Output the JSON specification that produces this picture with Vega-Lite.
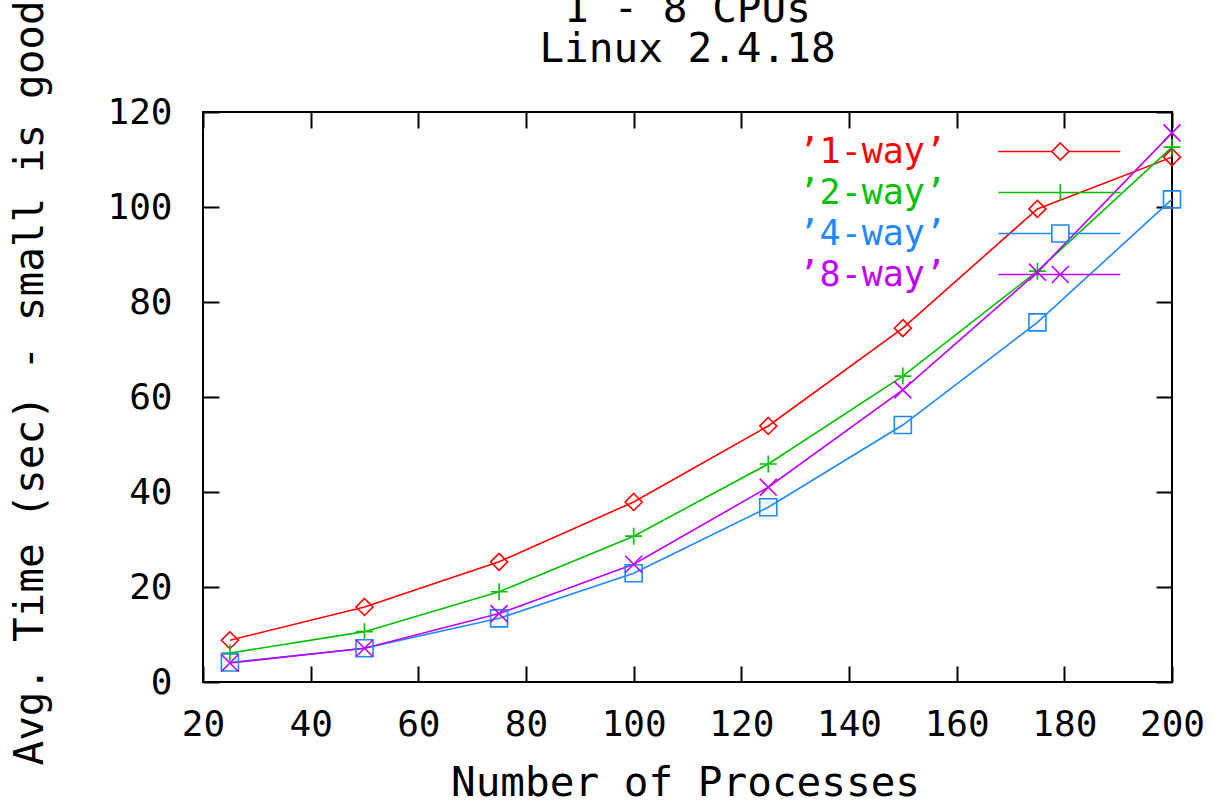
{
  "$schema": "https://vega.github.io/schema/vega-lite/v6.json",
  "width": 969,
  "height": 570,
  "autosize": {"type": "none"},
  "padding": {"left": 203, "top": 112, "right": 50, "bottom": 121},
  "background": "white",
  "title": {
    "text": ["1 - 8 CPUs", "Linux 2.4.18"],
    "font": "DejaVu Sans Mono",
    "fontSize": 41,
    "fontWeight": "normal",
    "color": "black",
    "lineHeight": 40,
    "offset": -71,
    "anchor": "middle"
  },
  "config": {
    "view": {"stroke": "black", "strokeWidth": 2},
    "axis": {
      "domain": false,
      "grid": false,
      "ticks": true,
      "tickSize": 16,
      "tickWidth": 2,
      "tickColor": "black",
      "offset": -16,
      "labelFont": "DejaVu Sans Mono",
      "labelFontSize": 36,
      "labelColor": "black",
      "labelFlush": false,
      "labelOverlap": false,
      "titleFont": "DejaVu Sans Mono",
      "titleFontSize": 41,
      "titleFontWeight": "normal",
      "titleColor": "black"
    }
  },
  "data": {
    "values": [
      {"n": 25, "series": "1-way", "time": 8.8},
      {"n": 50, "series": "1-way", "time": 15.8},
      {"n": 75, "series": "1-way", "time": 25.3},
      {"n": 100, "series": "1-way", "time": 37.9},
      {"n": 125, "series": "1-way", "time": 53.9},
      {"n": 150, "series": "1-way", "time": 74.5},
      {"n": 175, "series": "1-way", "time": 99.6},
      {"n": 200, "series": "1-way", "time": 110.5},
      {"n": 25, "series": "2-way", "time": 6.1},
      {"n": 50, "series": "2-way", "time": 10.6},
      {"n": 75, "series": "2-way", "time": 19.0},
      {"n": 100, "series": "2-way", "time": 30.7},
      {"n": 125, "series": "2-way", "time": 45.9},
      {"n": 150, "series": "2-way", "time": 64.4},
      {"n": 175, "series": "2-way", "time": 86.5},
      {"n": 200, "series": "2-way", "time": 112.6},
      {"n": 25, "series": "4-way", "time": 4.1},
      {"n": 50, "series": "4-way", "time": 7.1},
      {"n": 75, "series": "4-way", "time": 13.4},
      {"n": 100, "series": "4-way", "time": 22.9},
      {"n": 125, "series": "4-way", "time": 36.8},
      {"n": 150, "series": "4-way", "time": 54.1},
      {"n": 175, "series": "4-way", "time": 75.7},
      {"n": 200, "series": "4-way", "time": 101.6},
      {"n": 25, "series": "8-way", "time": 4.0},
      {"n": 50, "series": "8-way", "time": 7.1},
      {"n": 75, "series": "8-way", "time": 14.4},
      {"n": 100, "series": "8-way", "time": 24.8},
      {"n": 125, "series": "8-way", "time": 41.0},
      {"n": 150, "series": "8-way", "time": 61.5},
      {"n": 175, "series": "8-way", "time": 86.3},
      {"n": 200, "series": "8-way", "time": 115.6}
    ]
  },
  "layer": [
    {
      "mark": {"type": "line", "strokeWidth": 1.6},
      "encoding": {
        "x": {
          "field": "n", "type": "quantitative",
          "scale": {"domain": [20, 200], "nice": false, "zero": false},
          "axis": {
            "orient": "bottom",
            "values": [20, 40, 60, 80, 100, 120, 140, 160, 180, 200],
            "labelPadding": 25,
            "title": "Number of Processes",
            "titleX": 482,
            "titleY": 117,
            "titleBaseline": "middle",
            "titleAlign": "center"
          }
        },
        "y": {
          "field": "time", "type": "quantitative",
          "scale": {"domain": [0, 120], "nice": false, "zero": true},
          "axis": {
            "orient": "left",
            "values": [0, 20, 40, 60, 80, 100, 120],
            "labelPadding": 31,
            "title": "Avg. Time (sec) - small is good",
            "titleX": -189,
            "titleY": 653,
            "titleAngle": -90,
            "titleAlign": "left",
            "titleBaseline": "middle"
          }
        },
        "color": {
          "field": "series", "type": "nominal",
          "scale": {"domain": ["1-way", "2-way", "4-way", "8-way"], "range": ["#ff0000", "#00c000", "#1e88ff", "#c000ff"]},
          "legend": {
            "orient": "none",
            "legendX": 560.5,
            "legendY": 22,
            "title": null,
            "padding": 0,
            "symbolSize": 289,
            "symbolStrokeWidth": 1.6,
            "labelOffset": 0,
            "labelFont": "DejaVu Sans Mono",
            "labelFontSize": 35,
            "labelLimit": 0,
            "rowPadding": 5,
            "labelExpr": "'\u2019' + datum.label + '\u2019'",
            "encode": {
              "labels": {"update": {"fill": {"scale": "color", "field": "value"}}},
              "symbols": {"update": {
                "shape": {"signal": "datum.value === '1-way' ? 'M25.56,0H31.86M32.86,-1L33.86,0L32.86,1L31.86,0ZM33.86,0H39.92' : datum.value === '2-way' ? 'M25.56,0H39.92M32.86,-1V1' : datum.value === '4-way' ? 'M25.56,0H31.86M31.86,-1H33.86V1H31.86ZM33.86,0H39.92' : 'M25.56,0H39.92M31.86,-1L33.86,1M31.86,1L33.86,-1'"},
                "stroke": {"scale": "color", "field": "value"},
                "fill": {"value": "transparent"},
                "strokeWidth": {"value": 1.6}
              }}
            }
          }
        }
      }
    },
    {
      "transform": [{"filter": "datum.series === '1-way'"}],
      "mark": {"type": "point", "filled": false, "strokeWidth": 1.6, "size": 289, "opacity": 1, "shape": "M0,-1L1,0L0,1L-1,0Z"},
      "encoding": {
        "x": {
          "field": "n", "type": "quantitative",
          "axis": {"orient": "top", "values": [20, 40, 60, 80, 100, 120, 140, 160, 180, 200], "labels": false, "title": null}
        },
        "y": {
          "field": "time", "type": "quantitative",
          "axis": {"orient": "right", "values": [0, 20, 40, 60, 80, 100, 120], "labels": false, "title": null}
        },
        "color": {"field": "series", "type": "nominal"}
      }
    },
    {
      "transform": [{"filter": "datum.series === '2-way'"}],
      "mark": {"type": "point", "filled": false, "strokeWidth": 1.6, "size": 289, "opacity": 1, "shape": "M-1,0H1M0,-1V1"},
      "encoding": {
        "x": {"field": "n", "type": "quantitative", "axis": null},
        "y": {"field": "time", "type": "quantitative", "axis": null},
        "color": {"field": "series", "type": "nominal"}
      }
    },
    {
      "transform": [{"filter": "datum.series === '4-way'"}],
      "mark": {"type": "point", "filled": false, "strokeWidth": 1.6, "size": 289, "opacity": 1, "shape": "M-1,-1H1V1H-1Z"},
      "encoding": {
        "x": {"field": "n", "type": "quantitative", "axis": null},
        "y": {"field": "time", "type": "quantitative", "axis": null},
        "color": {"field": "series", "type": "nominal"}
      }
    },
    {
      "transform": [{"filter": "datum.series === '8-way'"}],
      "mark": {"type": "point", "filled": false, "strokeWidth": 1.6, "size": 289, "opacity": 1, "shape": "M-1,-1L1,1M-1,1L1,-1"},
      "encoding": {
        "x": {"field": "n", "type": "quantitative", "axis": null},
        "y": {"field": "time", "type": "quantitative", "axis": null},
        "color": {"field": "series", "type": "nominal"}
      }
    }
  ],
  "resolve": {"axis": {"x": "independent", "y": "independent"}}
}
